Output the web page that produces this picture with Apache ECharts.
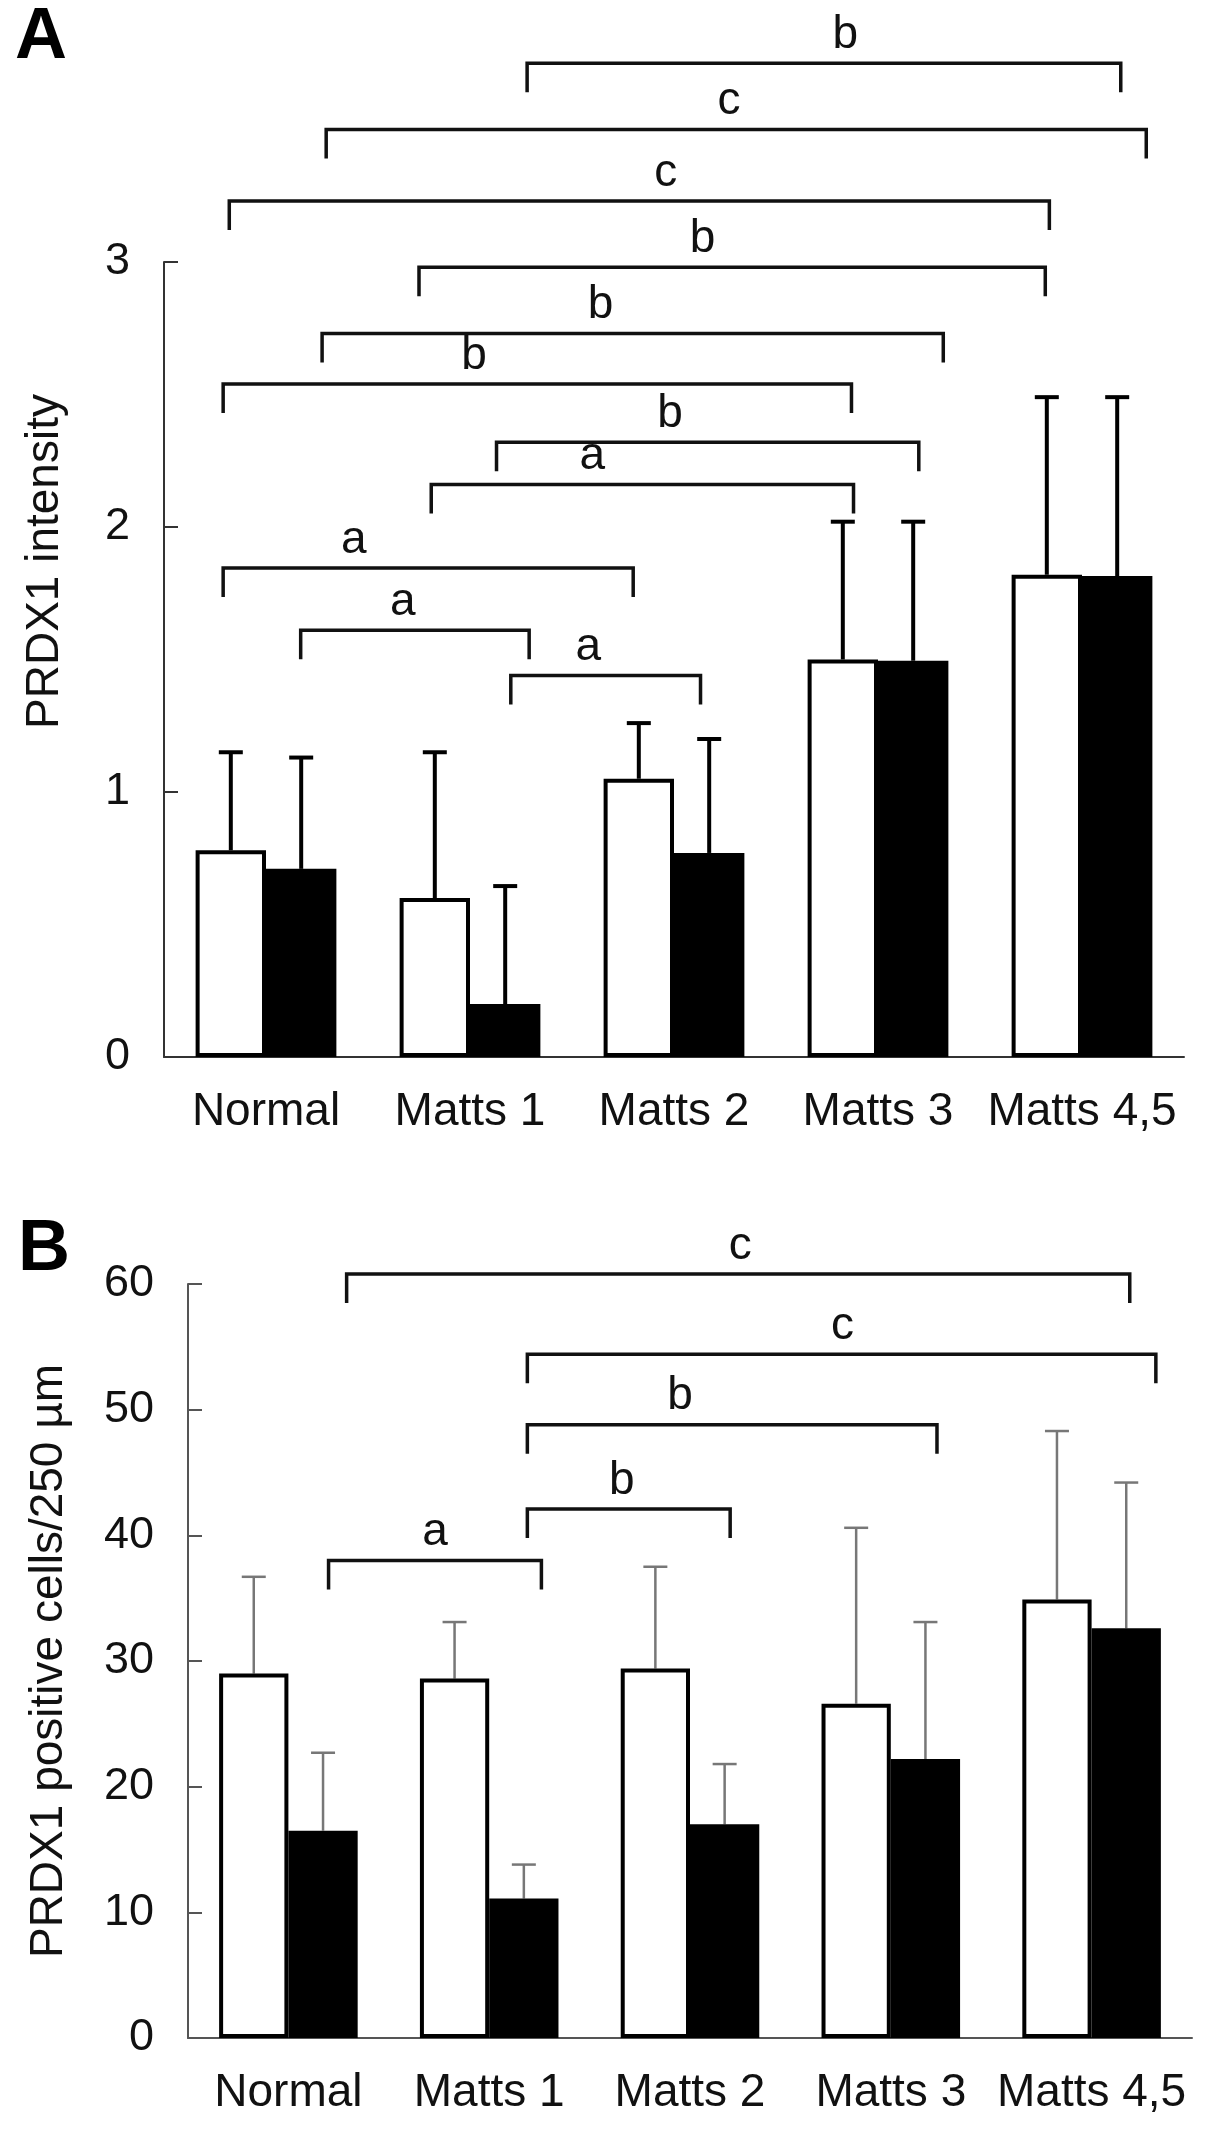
<!DOCTYPE html>
<html>
<head>
<meta charset="utf-8">
<script src="https://cdn.jsdelivr.net/npm/echarts@6/dist/echarts.min.js"></script>
<style>
  html, body { margin: 0; padding: 0; background: #fff; }
  #chart { width: 1205px; height: 2130px; }
</style>
</head>
<body>
<div id="chart"></div>
<script>
// ── Data ───────────────────────────────────────────────
const CATEGORIES = ['Normal', 'Matts 1', 'Matts 2', 'Matts 3', 'Matts 4,5'];

// Panel A: PRDX1 intensity (mean, mean + SD)
const A_WHITE     = [0.78, 0.60, 1.05, 1.50, 1.82];
const A_WHITE_ERR = [1.15, 1.15, 1.26, 2.02, 2.49];
const A_BLACK     = [0.71, 0.20, 0.77, 1.495, 1.815];
const A_BLACK_ERR = [1.13, 0.645, 1.20, 2.02, 2.49];

// Panel B: PRDX1 positive cells / 250 µm
const B_WHITE     = [29.0, 28.6, 29.4, 26.6, 34.9];
const B_WHITE_ERR = [36.7, 33.1, 37.5, 40.6, 48.3];
const B_BLACK     = [16.5, 11.1, 17.0, 22.2, 32.6];
const B_BLACK_ERR = [22.7, 13.8, 21.8, 33.1, 44.2];

// Significance brackets: [label, from, to, level, label at]
// from / to / label at are in category units (0 = centre of "Normal")
const A_BRACKETS = [
  ['b',  1.28,  4.19,  3.75,  2.84],
  ['c',  0.295, 4.315, 3.50,  2.27],
  ['c', -0.18,  3.84,  3.23,  1.96],
  ['b',  0.75,  3.82,  2.98,  2.14],
  ['b',  0.275, 3.32,  2.73,  1.64],
  ['b', -0.21,  2.87,  2.54,  1.02],
  ['b',  1.13,  3.20,  2.32,  1.98],
  ['a',  0.81,  2.88,  2.16,  1.60],
  ['a', -0.21,  1.80,  1.845, 0.43],
  ['a',  0.17,  1.29,  1.61,  0.67],
  ['a',  1.20,  2.13,  1.44,  1.58],
];
const B_BRACKETS = [
  ['c', 0.29, 4.19, 60.8, 2.25],
  ['c', 1.19, 4.32, 54.4, 2.76],
  ['b', 1.19, 3.23, 48.8, 1.95],
  ['b', 1.19, 2.20, 42.1, 1.66],
  ['a', 0.20, 1.26, 38.0, 0.73],
];

// ── Style ──────────────────────────────────────────────
const FONT      = "'Liberation Sans', Arial, sans-serif";
const BAR_SHARE = 0.69;   // part of a category taken by the bar pair
const DROP      = 29;     // bracket leg length, px

const chart = echarts.init(document.getElementById('chart'));

// Error bar (upper only), offset to the white (-1) or black (+1) bar
function errorRenderer(side, color, width) {
  return (params, api) => {
    const band = api.size([1, 0])[0];
    const top  = api.coord([api.value(0), api.value(2)]);
    const bot  = api.coord([api.value(0), api.value(1)]);
    const x    = top[0] + side * band * BAR_SHARE / 4;
    return {
      type: 'group',
      children: [
        { type: 'line', shape: { x1: x, y1: bot[1], x2: x, y2: top[1] },
          style: { stroke: color, lineWidth: width } },
        { type: 'line', shape: { x1: x - 12, y1: top[1], x2: x + 12, y2: top[1] },
          style: { stroke: color, lineWidth: width } },
      ],
    };
  };
}

function bracketRenderer(list) {
  return (params, api) => {
    const base = api.coord([0, api.value(1)]);
    const band = api.size([1, 0])[0];
    const x1 = base[0] + api.value(2) * band;
    const x2 = base[0] + api.value(3) * band;
    const xt = base[0] + api.value(4) * band;
    const y  = base[1];
    return {
      type: 'group',
      children: [
        { type: 'polyline',
          shape: { points: [[x1, y + DROP], [x1, y], [x2, y], [x2, y + DROP]] },
          style: { stroke: '#111', lineWidth: 3.5, fill: null } },
        { type: 'text', x: xt, y: y - 5,
          style: { text: list[params.dataIndex][0], fontSize: 46, fontFamily: FONT,
                   fill: '#111', align: 'center', verticalAlign: 'bottom' } },
      ],
    };
  };
}

function errData(vals, errs) {
  return vals.map((v, i) => [i, v, errs[i]]);
}
function bracketData(list) {
  return list.map(b => [0, b[3], b[1], b[2], b[4]]);
}

function xAxisFor(gridIndex, color) {
  return {
    gridIndex,
    type: 'category',
    data: CATEGORIES,
    axisLine:  { lineStyle: { color, width: 2 } },
    axisTick:  { inside: true, length: 14, lineStyle: { color, width: 2 } },
    axisLabel: { interval: 0, margin: 32, fontSize: 46, fontFamily: FONT, color: '#111' },
  };
}

function yAxisFor(gridIndex, max, interval, name, color, nameGap, namePad) {
  return {
    gridIndex,
    type: 'value',
    min: 0, max, interval,
    name,
    nameLocation: 'middle',
    nameRotate: 90,
    nameGap,
    nameTextStyle: { fontSize: 46, fontFamily: FONT, color: '#111', padding: namePad },
    axisLine:  { show: true, lineStyle: { color, width: 2 } },
    axisTick:  { show: true, inside: true, length: 14, lineStyle: { color, width: 2 } },
    axisLabel: { margin: 34, fontSize: 45, fontFamily: FONT, color: '#111' },
    splitLine: { show: false },
  };
}

function barSeries(axisIndex, values, filled) {
  return {
    type: 'bar',
    xAxisIndex: axisIndex, yAxisIndex: axisIndex,
    data: values,
    barGap: '0%',
    barCategoryGap: '31%',
    itemStyle: filled
      ? { color: '#000' }
      : { color: '#fff', borderColor: '#000', borderWidth: 4 },
    z: 3,
    silent: true,
  };
}

chart.setOption({
  animation: false,
  backgroundColor: '#fff',
  title: [
    { text: 'A', left: 15, top: 2, padding: 0,
      textStyle: { fontSize: 72, fontWeight: 'bold', fontFamily: FONT, color: '#000' } },
    { text: 'B', left: 18, top: 1214, padding: 0,
      textStyle: { fontSize: 72, fontWeight: 'bold', fontFamily: FONT, color: '#000' } },
  ],
  grid: [
    { left: 164, top: 262, width: 1020, height: 795 },
    { left: 188, top: 1284, width: 1004, height: 754 },
  ],
  xAxis: [xAxisFor(0, '#333'), xAxisFor(1, '#555')],
  yAxis: [
    yAxisFor(0, 3, 1, 'PRDX1 intensity', '#333', 96, [0, 0, 0, 196]),
    yAxisFor(1, 60, 10, 'PRDX1 positive cells/250 µm', '#555', 116, 0),
  ],
  series: [
    barSeries(0, A_WHITE, false),
    barSeries(0, A_BLACK, true),
    barSeries(1, B_WHITE, false),
    barSeries(1, B_BLACK, true),
    { type: 'custom', xAxisIndex: 0, yAxisIndex: 0, z: 2, silent: true,
      encode: { x: 0, y: [1, 2] },
      renderItem: errorRenderer(-1, '#000', 4), data: errData(A_WHITE, A_WHITE_ERR) },
    { type: 'custom', xAxisIndex: 0, yAxisIndex: 0, z: 2, silent: true,
      encode: { x: 0, y: [1, 2] },
      renderItem: errorRenderer(1, '#000', 4), data: errData(A_BLACK, A_BLACK_ERR) },
    { type: 'custom', xAxisIndex: 1, yAxisIndex: 1, z: 2, silent: true,
      encode: { x: 0, y: [1, 2] },
      renderItem: errorRenderer(-1, '#777', 2.5), data: errData(B_WHITE, B_WHITE_ERR) },
    { type: 'custom', xAxisIndex: 1, yAxisIndex: 1, z: 2, silent: true,
      encode: { x: 0, y: [1, 2] },
      renderItem: errorRenderer(1, '#777', 2.5), data: errData(B_BLACK, B_BLACK_ERR) },
    { type: 'custom', xAxisIndex: 0, yAxisIndex: 0, z: 4, silent: true, clip: false,
      encode: { x: 0, y: 1 },
      renderItem: bracketRenderer(A_BRACKETS), data: bracketData(A_BRACKETS) },
    { type: 'custom', xAxisIndex: 1, yAxisIndex: 1, z: 4, silent: true, clip: false,
      encode: { x: 0, y: 1 },
      renderItem: bracketRenderer(B_BRACKETS), data: bracketData(B_BRACKETS) },
  ],
});
</script>
</body>
</html>
